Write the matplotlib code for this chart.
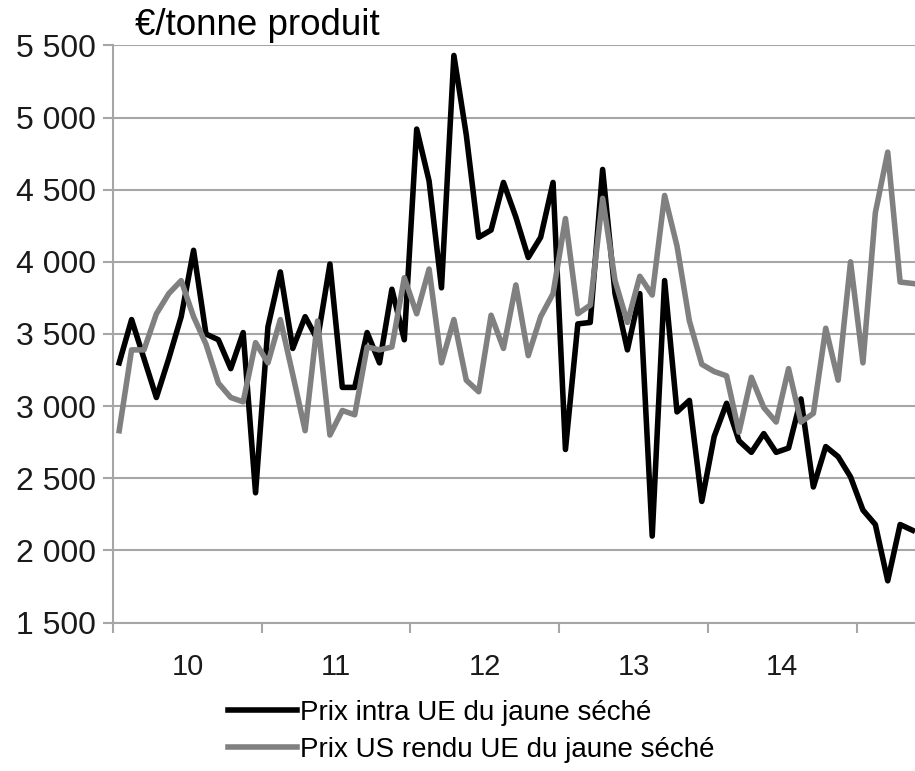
import matplotlib.pyplot as plt
import numpy as np

plt.rcParams['font.family'] = ['Liberation Sans', 'DejaVu Sans']

# monthly prices, Jan 2010 -> May 2015 (EUR / tonne)
intra_ue = [3300, 3600, 3330, 3060, 3330, 3620, 4080, 3500, 3460, 3260, 3510, 2400,
            3550, 3930, 3400, 3620, 3460, 3985, 3130, 3130, 3510, 3300, 3810, 3460,
            4920, 4560, 3820, 5430, 4880, 4170, 4220, 4550, 4310, 4030, 4170, 4550,
            2700, 3570, 3580, 4640, 3780, 3390, 3780, 2100, 3870, 2960, 3040, 2340,
            2790, 3020, 2760, 2680, 2810, 2680, 2710, 3050, 2440, 2720, 2650, 2510,
            2280, 2180, 1790, 2180, 2140]
us_rendu_ue = [2830, 3390, 3390, 3640, 3780, 3870, 3620, 3430, 3160, 3060, 3030, 3440,
               3300, 3600, 3220, 2830, 3590, 2800, 2970, 2940, 3410, 3390, 3410, 3890,
               3640, 3950, 3300, 3600, 3180, 3100, 3630, 3400, 3840, 3350, 3620, 3780,
               4300, 3640, 3700, 4440, 3870, 3580, 3900, 3770, 4460, 4110, 3590, 3290,
               3240, 3210, 2820, 3200, 2990, 2890, 3260, 2890, 2950, 3540, 3180, 4000,
               3300, 4340, 4760, 3860, 3850]
years = ['10', '11', '12', '13', '14']

months = np.arange(len(intra_ue)) + 0.5

fig = plt.figure(figsize=(9.15, 7.71), dpi=100)
ax = fig.add_axes([0.1235, 0.1924, 0.8765, 0.7488])

ax.plot(months, intra_ue, color='black', lw=4.0, solid_joinstyle='round',
        label='Prix intra UE du jaune séché')
ax.plot(months, us_rendu_ue, color='#808080', lw=4.0, solid_joinstyle='round',
        label='Prix US rendu UE du jaune séché')

ax.set_xlim(0, 64.7)
ax.set_ylim(1500, 5500)
yt = np.arange(1500, 5501, 500)
ax.set_yticks(yt)
ax.set_yticklabels(['{:,}'.format(v).replace(',', ' ') for v in yt])
ax.yaxis.grid(True, color='#a6a6a6', lw=1.5)
ax.set_axisbelow(True)

ax.set_xticks(np.arange(0, 61, 12))
ax.set_xticklabels([])
ax.set_xticks(np.arange(6, 60, 12), minor=True)
ax.set_xticklabels(years, minor=True)
ax.tick_params(axis='x', which='minor', length=0, pad=22, labelsize=21, colors='#1a1a1a')
ax.tick_params(axis='x', which='major', length=7, width=1.5, color='#a6a6a6')
ax.tick_params(axis='y', length=7, width=1.5, color='#a6a6a6', labelsize=23,
               labelcolor='#1a1a1a', pad=5)

for s in ['top', 'right']:
    ax.spines[s].set_visible(False)
for s in ['left', 'bottom']:
    ax.spines[s].set_color('#a6a6a6')
    ax.spines[s].set_linewidth(1.5)

fig.text(0.1475, 0.967, '€/tonne produit', fontsize=26.5, color='black', va='center')

fig.legend(loc='upper left', bbox_to_anchor=(0.249, 0.092), frameon=False,
           fontsize=20, handlelength=2.5, handletextpad=0.1, labelspacing=0.38,
           borderaxespad=0, borderpad=0)

plt.savefig('out.png', dpi=100)
